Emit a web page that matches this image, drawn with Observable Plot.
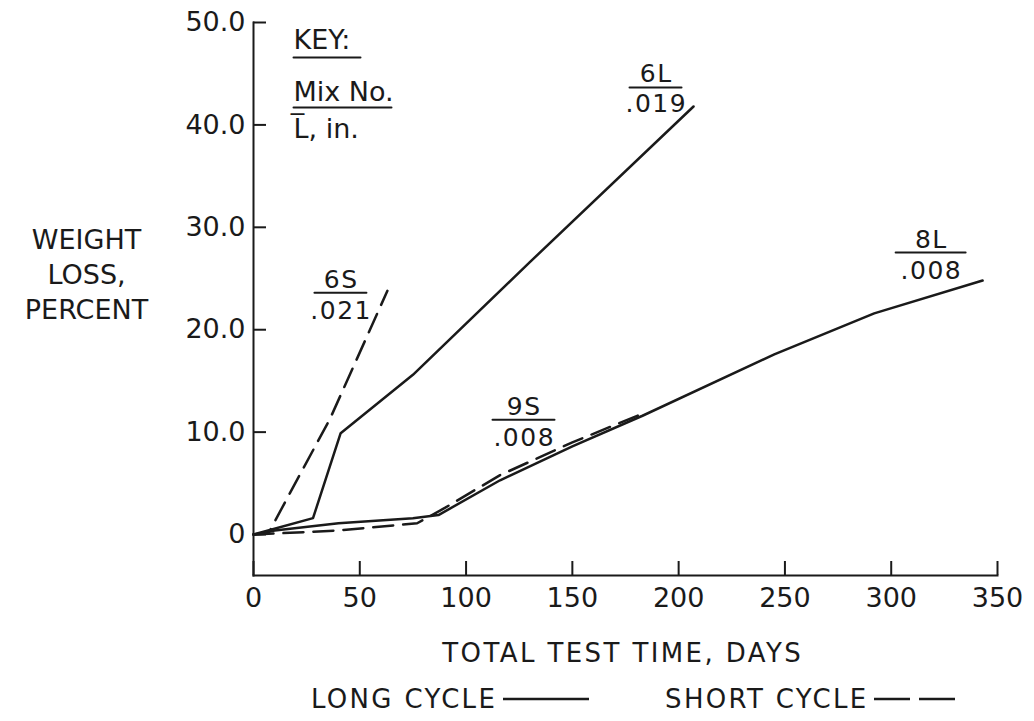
<!DOCTYPE html>
<html><head><meta charset="utf-8">
<script src="https://cdn.jsdelivr.net/npm/d3@7"></script>
<script src="https://cdn.jsdelivr.net/npm/@observablehq/plot@0.6"></script>
<style>
body{margin:0;background:#fff;}
#wrap{position:relative;width:1034px;height:721px;font-family:"DejaVu Sans",sans-serif;color:#1a1a1a;overflow:hidden}
#legend{position:absolute;left:311px;top:684px;display:flex;align-items:center;font-size:26px;letter-spacing:2.3px;}
#legend svg{display:block}
</style></head>
<body><div id="wrap"><div id="chart"></div>
<div id="legend"></div></div>
<script>
// ---- data ----
const xTicks = [0, 50, 100, 150, 200, 250, 300, 350];
const yTicks = [0, 10, 20, 30, 40, 50];
const yTickText = ["0", "10.0", "20.0", "30.0", "40.0", "50.0"];

const mixNames = ["6L", "6S", "9S", "8L"];
const mixL = [".019", ".021", ".008", ".008"];
const mixCycle = ["long", "short", "short", "long"];

const days6L = [0, 28, 41, 75, 130, 207];
const loss6L = [0, 1.6, 9.9, 15.6, 26.6, 41.8];
const days6S = [0, 7, 17, 36, 63];
const loss6S = [0, 0.1, 4.0, 11.3, 23.8];
const days9S = [0, 40, 77, 90, 116, 150, 170, 183];
const loss9S = [0, 0.4, 1.1, 2.6, 5.8, 9.0, 10.7, 11.8];
const days8L = [0, 10, 40, 75, 87, 116, 150, 183, 245, 292, 343];
const loss8L = [0, 0.4, 1.1, 1.6, 1.9, 5.3, 8.6, 11.6, 17.6, 21.6, 24.8];

const xTitle = "TOTAL TEST TIME, DAYS";
const yTitle = "WEIGHT\nLOSS,\nPERCENT";
const keyLines = ["KEY:", "Mix No.", "L\u0305, in."];
const legendText = ["LONG CYCLE", "SHORT CYCLE"];

// ---- build tables ----
const seriesDays = [days6L, days6S, days9S, days8L];
const seriesLoss = [loss6L, loss6S, loss9S, loss8L];
const rows = mixNames.flatMap((m, k) => seriesDays[k].map((d, i) => ({mix: m, cycle: mixCycle[k], day: d, loss: seriesLoss[k][i]})));
const ends = mixNames.map((m, k) => ({mix: m, L: mixL[k], day: seriesDays[k].at(-1), loss: seriesLoss[k].at(-1)}));

// label layout (pixels) relative to each curve's end
const labelOffset = {
  "6L": {dx: -38, dyNum: -24, dyBar: -19, dyDen: 6, bar: 52},
  "6S": {dx: -47, dyNum: -3, dyBar: 2, dyDen: 28, bar: 52},
  "9S": {dx: -119, dyNum: 1, dyBar: 6, dyDen: 32, bar: 62},
  "8L": {dx: -52, dyNum: -33, dyBar: -28, dyDen: -2, bar: 70}
};

const ink = "#1a1a1a";
// horizontal bar drawn by a vector (rotated 90°)
const barShape = {draw(context, l) { context.moveTo(0, 0); context.lineTo(0, -l); }};

const labelMarks = ends.flatMap(e => {
  const o = labelOffset[e.mix];
  return [
    Plot.text([e], {x: "day", y: "loss", text: "mix", dx: o.dx, dy: o.dyNum, lineAnchor: "bottom", fontSize: 25, fill: ink}),
    Plot.vector([e], {x: "day", y: "loss", length: o.bar, rotate: 90, anchor: "middle", shape: barShape, dx: o.dx, dy: o.dyBar, stroke: ink, strokeWidth: 2}),
    Plot.text([e], {x: "day", y: "loss", text: "L", dx: o.dx, dy: o.dyDen, lineAnchor: "bottom", fontSize: 25, fill: ink})
  ];
});

const chart = Plot.plot({
  width: 1034,
  height: 680,
  marginLeft: 253,
  marginRight: 37,
  marginTop: 22,
  marginBottom: 105,
  x: {domain: [0, 350]},
  y: {domain: [-4, 50]},
  style: {fontFamily: "DejaVu Sans", fontSize: "27px", color: ink, background: "white", overflow: "visible"},
  marks: [
    Plot.frame({anchor: "left", stroke: ink, strokeWidth: 2}),
    Plot.frame({anchor: "bottom", stroke: ink, strokeWidth: 2}),
    Plot.axisY(yTicks, {tickSize: -13, tickFormat: () => "", strokeWidth: 2, label: null}),
    Plot.axisY(yTicks, {tickSize: 0, tickPadding: 8, tickFormat: d => yTickText[yTicks.indexOf(d)], fontSize: 27, label: null}),
    Plot.axisX(xTicks, {tickSize: -14, tickFormat: () => "", strokeWidth: 2, label: null}),
    Plot.axisX(xTicks, {tickSize: 0, tickPadding: 12, tickFormat: d => String(d), fontSize: 27, label: null}),
    Plot.line(rows.filter(r => r.cycle === "long"), {x: "day", y: "loss", z: "mix", stroke: ink, strokeWidth: 2.5}),
    Plot.line(rows.filter(r => r.cycle === "short"), {x: "day", y: "loss", z: "mix", stroke: ink, strokeWidth: 2.5, strokeDasharray: "20,10"}),
    ...labelMarks,
    Plot.text([keyLines[0]], {frameAnchor: "top-left", dx: 40, dy: 26, textAnchor: "start", lineAnchor: "bottom", fontSize: 27, fill: ink}),
    Plot.vector([keyLines[0]], {frameAnchor: "top-left", dx: 40, dy: 35, length: 67, rotate: 90, anchor: "start", shape: barShape, stroke: ink, strokeWidth: 2}),
    Plot.text([keyLines[1]], {frameAnchor: "top-left", dx: 40, dy: 78, textAnchor: "start", lineAnchor: "bottom", fontSize: 27, fill: ink}),
    Plot.vector([keyLines[1]], {frameAnchor: "top-left", dx: 40, dy: 85, length: 98, rotate: 90, anchor: "start", shape: barShape, stroke: ink, strokeWidth: 2}),
    Plot.text([keyLines[2]], {frameAnchor: "top-left", dx: 40, dy: 115, textAnchor: "start", lineAnchor: "bottom", fontSize: 27, fill: ink}),
    Plot.text([yTitle], {frameAnchor: "left", dx: -167, dy: -26, textAnchor: "middle", lineAnchor: "middle", lineHeight: 1.3, fontSize: 27, fill: ink}),
    Plot.text([xTitle], {frameAnchor: "bottom", dx: -4, dy: 86, lineAnchor: "bottom", fontSize: 26, fill: ink})
  ]
});
document.getElementById("chart").append(chart);

// letter spacing to mimic the wide lettering of the original
const spacing = new Map([[xTitle, "2.4px"], ...mixNames.map(m => [m, "1.5px"]), ...mixL.map(l => [l, "1.5px"])]);
d3.select(chart).selectAll("text").each(function() {
  const s = spacing.get(this.textContent);
  if (s) {
    d3.select(this).style("letter-spacing", s);
    const a = this.getAttribute("text-anchor");
    if (a === "middle" || a === null) {
      // keep centred after trailing spacing
      const cur = +(this.getAttribute("dx") || 0);
      d3.select(this).attr("transform", (this.getAttribute("transform") || "") + ` translate(${parseFloat(s) / 2},0)`);
    }
  }
});

// legend
const leg = document.getElementById("legend");
function item(label, dash, w, gap) {
  const s = document.createElement("span");
  s.textContent = label;
  leg.append(s);
  const svg = d3.create("svg").attr("width", w).attr("height", 10).style("margin-left", "6px");
  svg.append("line").attr("x1", 0).attr("x2", w).attr("y1", 5).attr("y2", 5)
    .attr("stroke", ink).attr("stroke-width", 2.6).attr("stroke-dasharray", dash);
  leg.append(svg.node());
  if (gap) { const g = document.createElement("span"); g.style.width = gap + "px"; leg.append(g); }
}
item(legendText[0], null, 86, 76);
item(legendText[1], "36,9", 88, 0);
</script></body></html>
